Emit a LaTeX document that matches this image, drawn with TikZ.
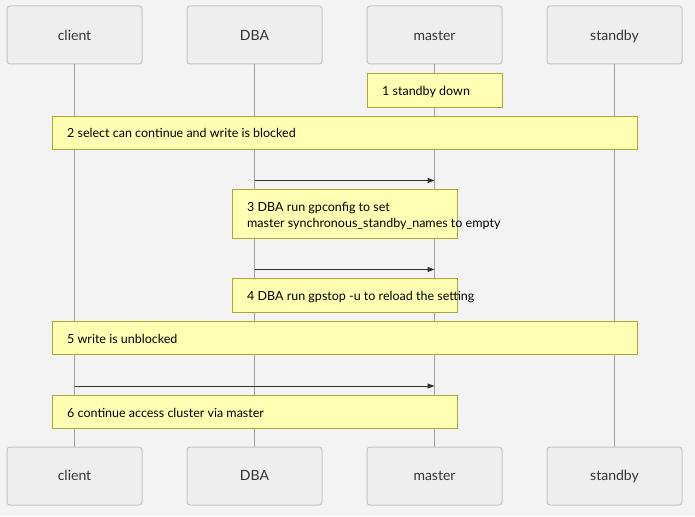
\documentclass[tikz,border=0pt]{standalone}
\usepackage{fontspec}
\setmainfont{Lato}
\usetikzlibrary{arrows.meta}
\definecolor{bg}{HTML}{F3F3F3}
\definecolor{actfill}{HTML}{EEEEEE}
\definecolor{actdraw}{HTML}{C4C4C4}
\definecolor{notefill}{HTML}{FFFFB3}
\definecolor{notedraw}{HTML}{AAAA33}
\definecolor{lifec}{HTML}{A0A0A0}
\definecolor{txt}{HTML}{333333}
\begin{document}
\begin{tikzpicture}[x=1pt,y=-1pt,
  actor/.style={draw=actdraw,fill=actfill,line width=1pt,rounded corners=3pt,minimum width=135pt,minimum height=58pt,inner sep=0pt},
  actlabel/.style={anchor=base,inner sep=0pt,font=\fontsize{14}{16}\selectfont,text=txt},
  notebox/.style={draw=notedraw,fill=notefill,line width=0.8pt},
  notetext/.style={anchor=base west,font=\fontsize{12.5}{15.5}\selectfont,text=black,inner sep=0pt,align=left},
  life/.style={draw=lifec,line width=0.6pt},
  msg/.style={draw=txt,line width=1pt,-{Triangle[length=7pt,width=5pt]}}]
\fill[bg] (0,0) rectangle (695,516);
\useasboundingbox (0,0) rectangle (695,516);
% actors top
\node[actor] (ct) at (74.5,35) {};
\node[actor] (dt) at (254.5,35) {};
\node[actor] (mt) at (434.5,35) {};
\node[actor] (st) at (614.5,35) {};
\node[actlabel] (ctl) at (74.5,40.5) {client};
\node[actlabel] (dtl) at (254.5,40.5) {DBA};
\node[actlabel] (mtl) at (434.5,40.5) {master};
\node[actlabel] (stl) at (614.5,40.5) {standby};
% actors bottom
\node[actor] (cb) at (74.5,476) {};
\node[actor] (db) at (254.5,476) {};
\node[actor] (mb) at (434.5,476) {};
\node[actor] (sb) at (614.5,476) {};
\node[actlabel] (cbl) at (74.5,480.7) {client};
\node[actlabel] (dbl) at (254.5,480.7) {DBA};
\node[actlabel] (mbl) at (434.5,480.7) {master};
\node[actlabel] (sbl) at (614.5,480.7) {standby};
% lifelines
\draw[life] (ct) -- (cb);
\draw[life] (dt) -- (db);
\draw[life] (mt) -- (mb);
\draw[life] (st) -- (sb);
% note 1
\draw[notebox] (367,73) rectangle (502,107);
\node[notetext] (n1) at (382,95.5) {1 standby down};
% note 2
\draw[notebox] (52,116) rectangle (637,149.5);
\node[notetext] (n2) at (67,137.5) {2 select can continue and write is blocked};
% arrow 1
\coordinate (a1s) at (254.5,180.5);
\coordinate (a1e) at (434.5,180.5);
\draw[msg] (a1s) -- (a1e);
% note 3
\draw[notebox] (232,189) rectangle (457,238.5);
\node[notetext] (n3a) at (247,211.5) {3 DBA run gpconfig to set};
\node[notetext] (n3b) at (247,227) {master synchronous\_standby\_names to empty};
% arrow 2
\coordinate (a2s) at (254.5,269.5);
\coordinate (a2e) at (434.5,269.5);
\draw[msg] (a2s) -- (a2e);
% note 4
\draw[notebox] (232,278.5) rectangle (457,312.5);
\node[notetext] (n4) at (247,300.7) {4 DBA run gpstop -u to reload the setting};
% note 5
\draw[notebox] (52,321.5) rectangle (637,354.5);
\node[notetext] (n5) at (67,343.3) {5 write is unblocked};
% arrow 3
\coordinate (a3s) at (74.5,386);
\coordinate (a3e) at (434.5,386);
\draw[msg] (a3s) -- (a3e);
% note 6
\draw[notebox] (52,395.5) rectangle (457,428);
\node[notetext] (n6) at (67,417.3) {6 continue access cluster via master};
\end{tikzpicture}
\end{document}
